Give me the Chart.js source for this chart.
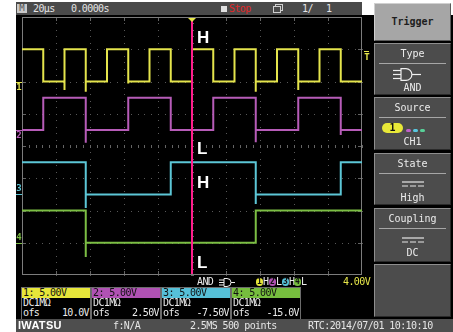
<!DOCTYPE html>
<html>
<head>
<meta charset="utf-8">
<title>IWATSU DS-5600 · AND trigger capture</title>
<script src="https://cdn.jsdelivr.net/npm/chart.js@4.4.1/dist/chart.umd.min.js"></script>
<style>
  html, body { margin: 0; padding: 0; background: #fff; }
  #wrap { position: relative; width: 453px; height: 332px; overflow: hidden; background: #fff;
          font-family: "DejaVu Sans Mono", "Liberation Mono", monospace; font-size: 10px; }
  .a { position: absolute; white-space: pre; }
  #screen { left: 16px; top: 15px; width: 437px; height: 304px; background: #000; }
  #topbar { left: 16px; top: 2px; width: 346px; height: 13px; background: #4a4a4a; }
  .tb { top: 2px; height: 13px; line-height: 13px; color: #e4e4e4; letter-spacing: -0.6px; }
  #scope { position: absolute; left: 0; top: 0; }
  .hl { font: bold 17px "Liberation Sans", Arial, sans-serif; color: #fff; line-height: 17px; }
  .btn { left: 374px; width: 77px; background: #4c4c4c; border: 1px solid; box-sizing: border-box;
         border-color: #8e8e8e #2a2a2a #2a2a2a #8e8e8e; color: #ececec; text-align: center; }
  .btn .ttl { position: absolute; left: 0; right: 0; top: 3px; height: 13px; line-height: 13px; }
  .btn .sep { position: absolute; left: 4px; right: 4px; top: 19px; height: 1px; background: #a6a6a6; }
  .btn .val { position: absolute; left: 0; right: 0; top: 37px; height: 13px; line-height: 13px; }
  .btn svg { position: absolute; }
  .chbox { top: 287px; width: 70px; height: 32px; box-sizing: border-box; border: 1px solid #6c6c6c; border-bottom: none;
           background: #000; white-space: normal; }
  .chbox .hdr { height: 10px; line-height: 10px; color: #111; padding-left: 1px; letter-spacing: -0.6px; white-space: pre; }
  .chbox .row { height: 10px; line-height: 10px; color: #ececec; display: flex; justify-content: space-between;
                padding: 0 1px; letter-spacing: -0.6px; }
  #bottombar { left: 16px; top: 319px; width: 437px; height: 13px; background: #4e4e4e; }
  .bb { top: 319px; height: 13px; line-height: 13px; color: #e6e6e6; letter-spacing: -0.6px; }
  .ar { top: 277px; height: 10px; line-height: 10px; color: #ececec; letter-spacing: -0.6px; }
  .circ { top: 278px; width: 7px; height: 8px; border-radius: 4px; color: #111; font-size: 8px;
          line-height: 8px; text-align: center; font-weight: bold; letter-spacing: 0; }
</style>
</head>
<body>
<div id="wrap">
  <div class="a" id="screen"></div>

  <!-- status line -->
  <div class="a" id="topbar"></div>
  <div class="a" style="left:17px;top:4px;width:10px;height:9px;background:#c9c9c9;color:#555;line-height:9px;text-align:center;font-size:9px;">M</div>
  <div class="a tb" style="left:33px;">20µs</div>
  <div class="a tb" style="left:71px;">0.0000s</div>
  <div class="a" style="left:221px;top:6px;width:6px;height:6px;background:#e0e0e0;"></div>
  <div class="a tb" style="left:229px;color:#e02828;">Stop</div>
  <svg class="a" style="left:273px;top:4px;" width="10" height="9" viewBox="0 0 10 9">
    <rect x="2.5" y="0.5" width="7" height="6" fill="none" stroke="#d0d0d0"/>
    <rect x="0.5" y="2.5" width="7" height="6" fill="#4a4a4a" stroke="#d0d0d0"/>
  </svg>
  <div class="a tb" style="left:302px;">1/</div>
  <div class="a tb" style="left:326px;">1</div>

  <canvas id="scope" width="453" height="332"></canvas>

  <!-- AND trigger summary under the graticule -->
  <div class="a ar" style="left:197px;">AND</div>
  <svg class="a" style="left:219px;top:278px;" width="16" height="9" viewBox="0 0 16 9">
    <g stroke="#eeeeee" stroke-width="1" fill="none"><line x1="0" y1="2" x2="5" y2="2"/><line x1="0" y1="4.5" x2="5" y2="4.5"/><line x1="0" y1="7" x2="5" y2="7"/>
    <path d="M5 0.5 H8 A4 4 0 0 1 8 8.5 H5 Z"/><line x1="12" y1="4.5" x2="16" y2="4.5"/></g>
  </svg>
  <div id="andPattern"></div>

  <!-- side menu -->
  <div class="a btn" style="top:3px;height:38px;background:#a6a6a6;border-color:#d0d0d0 #5a5a5a #5a5a5a #d0d0d0;color:#1e1e1e;font-weight:bold;line-height:36px;">Trigger</div>
  <div class="a btn" style="top:43px;height:52px;">
    <div class="ttl">Type</div><div class="sep"></div>
    <svg style="left:18px;top:24px;" width="28" height="13" viewBox="0 0 28 13">
      <g stroke="#f0f0f0" stroke-width="1.2" fill="none">
        <line x1="0" y1="2.5" x2="8" y2="2.5"/><line x1="0" y1="6.5" x2="8" y2="6.5"/><line x1="0" y1="10.5" x2="8" y2="10.5"/>
        <path d="M8 0.6 H13 A5.9 5.9 0 0 1 13 12.4 H8 Z"/>
        <line x1="19" y1="6.5" x2="28" y2="6.5"/>
      </g>
    </svg>
    <div class="val">AND</div>
  </div>
  <div class="a btn" style="top:97px;height:53px;">
    <div class="ttl">Source</div><div class="sep"></div>
    <div style="position:absolute;left:7px;top:25px;width:21px;height:10px;border-radius:5px;background:#e8e838;color:#111;font-weight:bold;line-height:10px;">1</div>
    <div style="position:absolute;left:31px;top:31px;width:5px;height:3px;border-radius:2px;background:#c060c8;"></div>
    <div style="position:absolute;left:38px;top:31px;width:5px;height:3px;border-radius:2px;background:#58c8e0;"></div>
    <div style="position:absolute;left:45px;top:31px;width:5px;height:3px;border-radius:2px;background:#58d098;"></div>
    <div class="val">CH1</div>
  </div>
  <div class="a btn" style="top:153px;height:52px;">
    <div class="ttl">State</div><div class="sep"></div>
    <svg style="left:27px;top:27px;" width="22" height="6" viewBox="0 0 22 6">
      <line x1="0" y1="1" x2="22" y2="1" stroke="#e6e6e6" stroke-width="1.2"/>
      <line x1="0" y1="5" x2="22" y2="5" stroke="#e6e6e6" stroke-width="1.2" stroke-dasharray="6 2"/>
    </svg>
    <div class="val">High</div>
  </div>
  <div class="a btn" style="top:208px;height:54px;">
    <div class="ttl">Coupling</div><div class="sep"></div>
    <svg style="left:27px;top:28px;" width="22" height="6" viewBox="0 0 22 6">
      <line x1="0" y1="1" x2="22" y2="1" stroke="#e6e6e6" stroke-width="1.2"/>
      <line x1="0" y1="5" x2="22" y2="5" stroke="#e6e6e6" stroke-width="1.2" stroke-dasharray="6 2"/>
    </svg>
    <div class="val">DC</div>
  </div>
  <div class="a btn" style="top:264px;height:53px;"></div>

  <!-- vertical settings per channel -->
  <div id="chBoxes"></div>

  <!-- footer -->
  <div class="a" id="bottombar"></div>
  <div class="a" style="left:18px;top:319px;height:13px;line-height:13px;color:#fff;font:bold 11px 'Liberation Sans',Arial,sans-serif;letter-spacing:0.3px;">IWATSU</div>
  <div class="a bb" style="left:113px;">f:N/A</div>
  <div class="a bb" style="left:190px;">2.5MS 500 points</div>
  <div class="a bb" style="left:308px;">RTC:2014/07/01 10:10:10</div>

  <div id="stateLabels"></div>
</div>

<script>
// ---- acquisition settings ----
const timePerDiv = 20;                 // µs/div
const timeRange = [-100, 100];         // µs, trigger at 0
const triggerTime = 0;
const channelNames = ['1', '2', '3', '4'];
const voltsPerDiv = [5, 5, 5, 5];      // V/div
const offsets = [10.0, 2.5, -7.5, -15.0]; // V
const triggerLevel = 4.00;             // V on CH1
const triggerPattern = ['H', 'L', 'H', 'L'];

// ---- logic levels (V) ----
const lowLevel = [0, 0, 0, 0];
const highLevel = [5, 5, 5, 5];
const startHigh = [true, false, true, true];

// ---- edge times (µs) ----
const ch1Edges = [-87.5, -75, -62.5, -50, -37.5, -25, -12.5, 0, 12.5, 25, 37.5, 50, 62.5, 75, 87.5];
const ch2Edges = [-87.5, -62.5, -37.5, -12.5, 12.5, 37.5, 62.5, 87.5];
const ch3Edges = [-62.5, -12.5, 37.5, 87.5];
const ch4Edges = [-62.5, 37.5];

// ---- switching glitches: [edge time µs, peak V] ----
const ch1Glitches = [[-75, -1.3], [-62.5, -1.6], [-37.5, -0.3], [37.5, -1.6], [62.5, -1.3]];
const ch2Glitches = [[-62.5, -2.0], [37.5, -1.9], [87.5, -0.8]];
const ch3Glitches = [[-62.5, -2.1], [37.5, -1.5]];
const ch4Glitches = [[-62.5, -2.2]];

const traceColors = ['#e4e44c', '#b65cb8', '#5cc6d6', '#7cbe44'];
const headerColors = ['#e6e63a', '#b052b4', '#56c0d8', '#76be3e'];

// Build a stepped trace (in graticule divisions) from the edge list.
function tracePoints(ch, edges, glitches) {
  const toDiv = v => (v + offsets[ch]) / voltsPerDiv[ch];
  let level = startHigh[ch] ? highLevel[ch] : lowLevel[ch];
  const pts = [{ x: timeRange[0], y: toDiv(level) }];
  edges.forEach(t => {
    pts.push({ x: t, y: toDiv(level) });
    const g = glitches.find(p => p[0] === t);
    if (g) pts.push({ x: t, y: toDiv(g[1]) });
    level = level === highLevel[ch] ? lowLevel[ch] : highLevel[ch];
    pts.push({ x: t, y: toDiv(level) });
  });
  pts.push({ x: timeRange[1], y: toDiv(level) });
  return pts;
}

const edgeSets = [ch1Edges, ch2Edges, ch3Edges, ch4Edges];
const glitchSets = [ch1Glitches, ch2Glitches, ch3Glitches, ch4Glitches];

const datasets = edgeSets.map((edges, ch) => ({
  label: 'CH' + channelNames[ch],
  data: tracePoints(ch, edges, glitchSets[ch]),
  borderColor: traceColors[ch],
  borderWidth: 2,
  pointRadius: 0,
  tension: 0,
  fill: false
}));

// Dotted graticule, center-line ticks and frame.
const scopeGrid = {
  id: 'scopeGrid',
  beforeDatasetsDraw(chart) {
    const { ctx, chartArea: a, scales: { x, y } } = chart;
    const xDivs = Math.round((x.max - x.min) / timePerDiv);
    const yDivs = Math.round(y.max - y.min);
    ctx.save();
    ctx.fillStyle = '#585858';
    for (let i = 1; i < xDivs; i++) {
      const px = Math.round(x.getPixelForValue(x.min + i * timePerDiv));
      for (let k = 0; k <= yDivs * 5; k++) {
        ctx.fillRect(px, Math.round(y.getPixelForValue(y.min + k / 5)), 1, 1);
      }
    }
    for (let j = 1; j < yDivs; j++) {
      const py = Math.round(y.getPixelForValue(y.min + j));
      for (let k = 0; k <= xDivs * 5; k++) {
        ctx.fillRect(Math.round(x.getPixelForValue(x.min + k * timePerDiv / 5)), py, 1, 1);
      }
    }
    // ticks on the center axes
    const cx = Math.round(x.getPixelForValue(0));
    const cy = Math.round(y.getPixelForValue(0));
    ctx.fillStyle = '#646464';
    for (let k = 0; k <= yDivs * 5; k++) ctx.fillRect(cx - 1, Math.round(y.getPixelForValue(y.min + k / 5)), 3, 1);
    for (let k = 0; k <= xDivs * 5; k++) ctx.fillRect(Math.round(x.getPixelForValue(x.min + k * timePerDiv / 5)), cy - 1, 1, 3);
    // ticks on the frame at each division
    for (let i = 1; i < xDivs; i++) {
      const px = Math.round(x.getPixelForValue(x.min + i * timePerDiv));
      ctx.fillRect(px, Math.round(a.top), 1, 4);
      ctx.fillRect(px, Math.round(a.bottom) - 4, 1, 4);
    }
    for (let j = 1; j < yDivs; j++) {
      const py = Math.round(y.getPixelForValue(y.min + j));
      ctx.fillRect(Math.round(a.left), py, 4, 1);
      ctx.fillRect(Math.round(a.right) - 4, py, 4, 1);
    }
    ctx.strokeStyle = '#7c7c7c';
    ctx.lineWidth = 1;
    ctx.strokeRect(Math.round(a.left) + 0.5, Math.round(a.top) + 0.5,
                   Math.round(a.right - a.left) - 1, Math.round(a.bottom - a.top) - 1);
    ctx.restore();
  }
};

// Trigger cursor, trigger position/level marks and channel ground marks.
const scopeMarks = {
  id: 'scopeMarks',
  afterDatasetsDraw(chart) {
    const { ctx, chartArea: a, scales: { x, y } } = chart;
    ctx.save();
    const tx = Math.round(x.getPixelForValue(triggerTime));
    ctx.fillStyle = '#ff1e8c';
    ctx.fillRect(tx - 1, Math.round(a.top) + 1, 2, Math.round(a.bottom - a.top) - 2);

    // trigger position
    ctx.fillStyle = '#e8e84a';
    ctx.beginPath();
    ctx.moveTo(tx - 4, a.top + 1); ctx.lineTo(tx + 4, a.top + 1); ctx.lineTo(tx, a.top + 5);
    ctx.closePath(); ctx.fill();

    // trigger level on CH1
    const ly = Math.round(y.getPixelForValue((triggerLevel + offsets[0]) / voltsPerDiv[0]));
    ctx.fillRect(Math.round(a.right) + 2, ly - 5, 5, 1);
    ctx.font = 'bold 9px "DejaVu Sans Mono"';
    ctx.textAlign = 'center';
    ctx.textBaseline = 'middle';
    ctx.fillText('T', Math.round(a.right) + 5, ly + 2);

    // channel ground markers
    channelNames.forEach((n, ch) => {
      const gy = Math.round(y.getPixelForValue(offsets[ch] / voltsPerDiv[ch]));
      ctx.fillStyle = traceColors[ch];
      ctx.fillRect(16, gy, 6, 1);
      ctx.fillText(n, 19, offsets[ch] >= 0 ? gy + 6 : gy - 5);
    });
    ctx.restore();
  }
};

new Chart(document.getElementById('scope'), {
  type: 'line',
  data: { datasets },
  options: {
    responsive: false,
    animation: false,
    devicePixelRatio: 1,
    layout: { padding: { left: 22, right: 91, top: 17, bottom: 57 } },
    plugins: { legend: { display: false }, tooltip: { enabled: false } },
    scales: {
      x: { type: 'linear', min: timeRange[0], max: timeRange[1], display: false },
      y: { type: 'linear', min: -4, max: 4, display: false }
    }
  },
  plugins: [scopeGrid, scopeMarks]
});

// Per-channel vertical setting boxes.
function fmtVolts(v) { return (Math.abs(v) >= 10 ? v.toFixed(1) : v.toFixed(2)) + 'V'; }
const boxLefts = [21, 91, 161, 231];
document.getElementById('chBoxes').innerHTML = channelNames.map((n, ch) =>
  `<div class="a chbox" style="left:${boxLefts[ch]}px;">` +
  `<div class="hdr" style="background:${headerColors[ch]}">${n}: ${fmtVolts(voltsPerDiv[ch])}</div>` +
  `<div class="row"><span>DC1MΩ</span></div>` +
  `<div class="row"><span>ofs</span><span>${fmtVolts(offsets[ch])}</span></div>` +
  `</div>`).join('');

// AND trigger pattern: circled channel number followed by its required state.
const patternLefts = [256, 269, 282, 294];
document.getElementById('andPattern').innerHTML = triggerPattern.map((s, ch) =>
  `<div class="a circ" style="left:${patternLefts[ch]}px;background:${headerColors[ch]}">${channelNames[ch]}</div>` +
  `<div class="a ar" style="left:${patternLefts[ch] + 7}px;">${s}</div>`).join('') +
  `<div class="a ar" style="left:343px;color:#e8e84a;">${triggerLevel.toFixed(2)}V</div>`;

// Channel states at the trigger point.
const stateTops = [29, 140, 174, 254];
document.getElementById('stateLabels').innerHTML = triggerPattern.map((s, ch) =>
  `<div class="a hl" style="left:197px;top:${stateTops[ch]}px;">${s}</div>`).join('');
</script>
</body>
</html>
